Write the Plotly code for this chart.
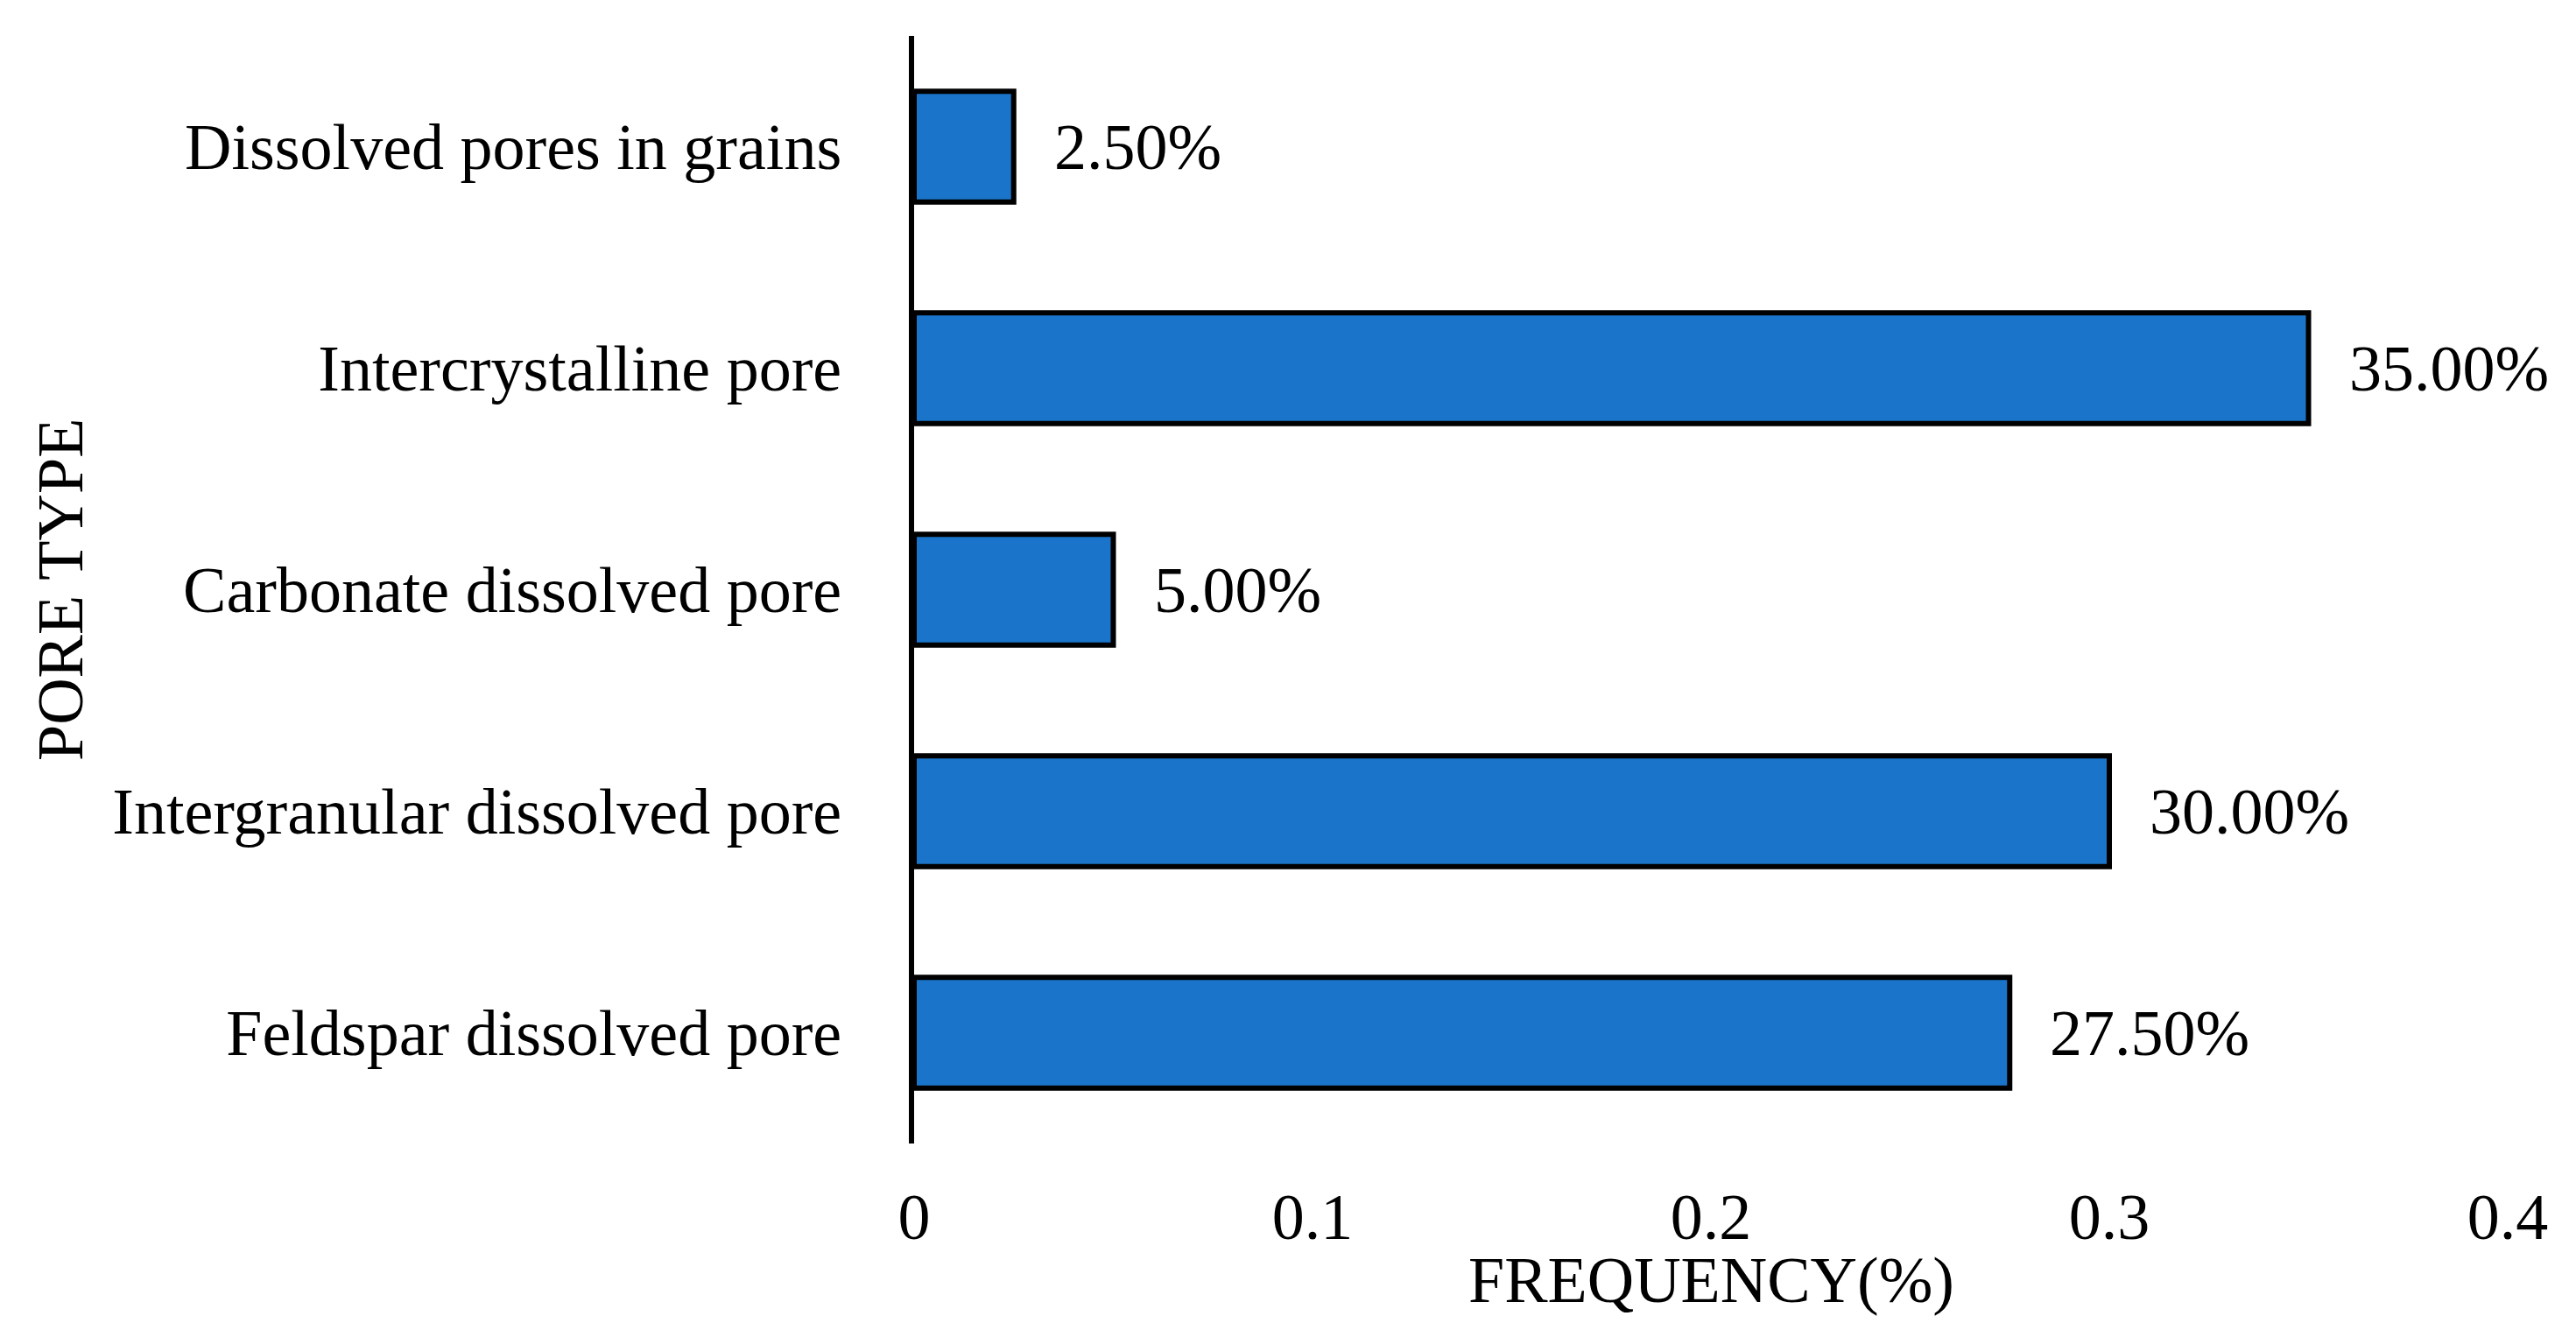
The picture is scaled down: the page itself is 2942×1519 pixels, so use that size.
import plotly.graph_objects as go

categories = ["Feldspar dissolved pore", "Intergranular dissolved pore",
              "Carbonate dissolved pore", "Intercrystalline pore",
              "Dissolved pores in grains"]
values = [0.275, 0.30, 0.05, 0.35, 0.025]
value_labels = ["27.50%", "30.00%", "5.00%", "35.00%", "2.50%"]
x_ticks = [0, 0.1, 0.2, 0.3, 0.4]
x_tick_labels = ["0", "0.1", "0.2", "0.3", "0.4"]
x_title = "FREQUENCY(%)"
y_title = "PORE TYPE"

FONT = "Liberation Serif, Times New Roman, serif"
FS = 74

fig = go.Figure()
fig.add_trace(go.Bar(
    x=values, y=categories, orientation="h", width=0.5,
    marker=dict(color="#1A74C9", line=dict(color="black", width=6)),
    showlegend=False,
))

for v, c, t in zip(values, categories, value_labels):
    fig.add_annotation(x=v, y=c, text=t, showarrow=False, xanchor="left",
                       xshift=44, font=dict(family=FONT, size=FS, color="black"))

fig.add_annotation(xref="paper", yref="paper", x=0.5, y=-0.123, text=x_title,
                   showarrow=False, xanchor="center", yanchor="middle",
                   font=dict(family=FONT, size=FS, color="black"))
fig.add_annotation(xref="paper", yref="paper", x=-0.536, y=0.5, text=y_title,
                   showarrow=False, xanchor="center", yanchor="middle", textangle=-90,
                   font=dict(family=FONT, size=FS, color="black"))

fig.update_layout(
    width=2942, height=1519,
    margin=dict(l=1036, r=86, t=33, b=221, autoexpand=False),
    paper_bgcolor="white", plot_bgcolor="white",
    font=dict(family=FONT, size=FS, color="black"),
    bargap=0.5,
)
fig.update_xaxes(
    range=[0, 0.4], tickvals=x_ticks, ticktext=x_tick_labels,
    showgrid=False, zeroline=False, showline=False, ticks="",
    ticklabelstandoff=34, automargin=False,
)
fig.update_yaxes(
    showgrid=False, zeroline=False, showline=True, linecolor="black", linewidth=6,
    ticks="", ticklabelstandoff=62, categoryorder="array", categoryarray=categories,
    automargin=False,
)

fig.write_html("out.html")
